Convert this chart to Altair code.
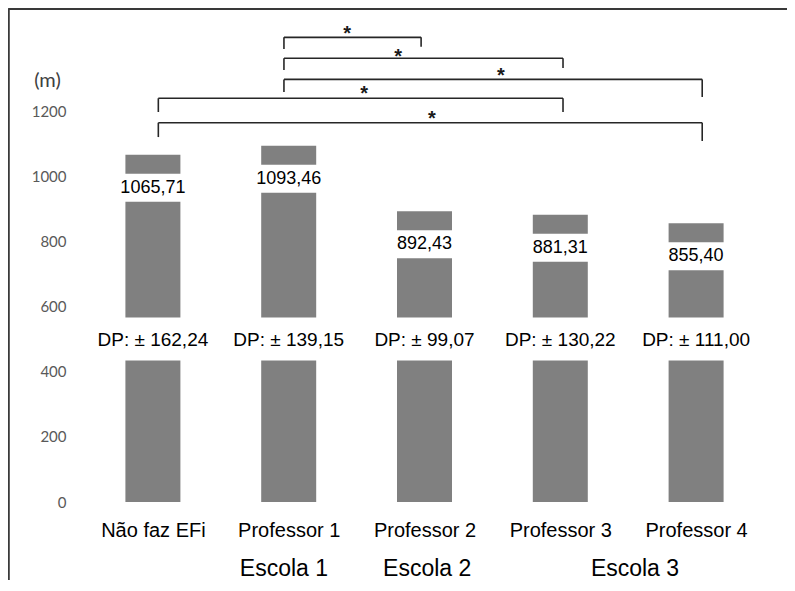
import json
import altair as alt
import pandas as pd

# ---- data ----
categories = ["Não faz EFi", "Professor 1", "Professor 2", "Professor 3", "Professor 4"]
means = [1065.71, 1093.46, 892.43, 881.31, 855.40]
mean_labels = ["1065,71", "1093,46", "892,43", "881,31", "855,40"]
sd_labels = ["DP: ± 162,24", "DP: ± 139,15", "DP: ± 99,07", "DP: ± 130,22", "DP: ± 111,00"]
y_ticks = [0, 200, 400, 600, 800, 1000, 1200]

groups = ["Escola 1", "Escola 2", "Escola 3"]
group_pos = [0.965, 2.02, 3.55]

# significance brackets (category index pairs)
bracket_from = [1, 1, 1, 0, 0]
bracket_to = [2, 3, 4, 3, 4]
bracket_level = [1426, 1362, 1297, 1239, 1164]
tick_left_end = [1390, 1326, 1258, 1197, 1120]
tick_right_end = [1397, 1332, 1243, 1197, 1108]
end_pos = [0.04, 0.965, 1.975, 3.02, 4.045]
star_pos = [1.43, 1.805, 2.563, 1.555, 2.055]
star_level = [1452, 1381, 1323, 1268, 1191]

# ---- layout constants ----
W, H = 679, 391
PX = H / 1200.0  # pixels per unit
FONT = "Liberation Sans"

bars = pd.DataFrame({
    "idx": list(range(len(categories))),
    "cat": categories,
    "mean": means,
    "mlabel": mean_labels,
    "sd": sd_labels,
})
bars["box_top"] = bars["mean"] - 19 / PX
bars["box_bot"] = bars["mean"] - 47 / PX
bars["sd_y"] = 497.0
bars["sd_top"] = 566.0
bars["sd_bot"] = 434.0

segs = []
for f, t, lv, tl, tr in zip(bracket_from, bracket_to, bracket_level, tick_left_end, tick_right_end):
    xl, xr = end_pos[f], end_pos[t]
    segs.append({"x1": xl, "x2": xr, "y1": lv, "y2": lv})
    segs.append({"x1": xl, "x2": xl, "y1": lv, "y2": tl})
    segs.append({"x1": xr, "x2": xr, "y1": lv, "y2": tr})
segs = pd.DataFrame(segs)

stars = pd.DataFrame({"x": star_pos, "y": star_level, "t": ["*"] * len(star_pos)})
grp = pd.DataFrame({"x": group_pos, "g": groups})

xs = alt.Scale(domain=[-0.5, 4.5], nice=False, zero=False, padding=0)
ys = alt.Scale(domain=[0, 1200], nice=False, zero=True, padding=0)

label_expr = json.dumps(categories) + "[datum.value]"

base_bars = alt.Chart(bars).mark_bar(size=55, color="#808080").encode(
    x=alt.X("idx:Q", scale=xs, title=None, axis=alt.Axis(
        values=list(range(len(categories))), labelExpr=label_expr, title=None,
        domain=False, ticks=False, grid=False, labelFont=FONT, labelFontSize=20,
        labelColor="#000000", labelPadding=18)),
    y=alt.Y("mean:Q", scale=ys, title="(m)", axis=alt.Axis(
        values=y_ticks, format="d", domain=False, ticks=False, grid=False,
        labelFont="Lato", labelFontSize=15, labelColor="#595959", labelPadding=19,
        title="(m)", titleAngle=0, titleX=-38, titleY=-31, titleAlign="center",
        titleBaseline="middle", titleFont="Lato", titleFontSize=20,
        titleFontWeight="normal", titleColor="#404040")),
    y2=alt.datum(0),
)

val_box = alt.Chart(bars).mark_bar(size=58, color="white").encode(
    x=alt.X("idx:Q", scale=xs),
    y=alt.Y("box_top:Q", scale=ys),
    y2="box_bot:Q",
)
val_text = alt.Chart(bars).mark_text(font=FONT, fontSize=18, color="#000000",
                                     baseline="middle", dy=33).encode(
    x=alt.X("idx:Q", scale=xs),
    y=alt.Y("mean:Q", scale=ys),
    text="mlabel:N",
)
sd_box = alt.Chart(bars).mark_bar(size=58, color="white").encode(
    x=alt.X("idx:Q", scale=xs),
    y=alt.Y("sd_top:Q", scale=ys),
    y2="sd_bot:Q",
)
sd_text = alt.Chart(bars).mark_text(font=FONT, fontSize=19, color="#000000",
                                    baseline="middle").encode(
    x=alt.X("idx:Q", scale=xs),
    y=alt.Y("sd_y:Q", scale=ys),
    text="sd:N",
)

brackets = alt.Chart(segs).mark_rule(color="#262626", strokeWidth=1.6).encode(
    x=alt.X("x1:Q", scale=xs),
    x2="x2:Q",
    y=alt.Y("y1:Q", scale=ys),
    y2="y2:Q",
)
star_text = alt.Chart(stars).mark_text(font=FONT, fontSize=20, fontWeight="bold",
                                       color="#1a1a1a", baseline="alphabetic", dy=11).encode(
    x=alt.X("x:Q", scale=xs),
    y=alt.Y("y:Q", scale=ys),
    text="t:N",
)
group_text = alt.Chart(grp).mark_text(font=FONT, fontSize=23, color="#000000",
                                      baseline="middle").encode(
    x=alt.X("x:Q", scale=xs),
    y=alt.value(458),
    text="g:N",
)

frame_top = alt.Chart(bars).mark_rule(color="#3a3a3a", strokeWidth=1.5).encode(
    x=alt.value(-76.5), x2=alt.value(702), y=alt.value(-102))
frame_left = alt.Chart(bars).mark_rule(color="#3a3a3a", strokeWidth=1.5).encode(
    x=alt.value(-76.5), y=alt.value(-102), y2=alt.value(470))

chart = alt.layer(
    base_bars, val_box, val_text, sd_box, sd_text, brackets, star_text, group_text,
    frame_top, frame_left,
).properties(
    width=W, height=H,
    autosize=alt.AutoSizeParams(type="none"),
    padding={"left": 77, "top": 103, "right": 23, "bottom": 78},
    background="white",
).configure_view(stroke="transparent")

chart.save("out.html", embed_options={"renderer": "svg", "actions": False})
